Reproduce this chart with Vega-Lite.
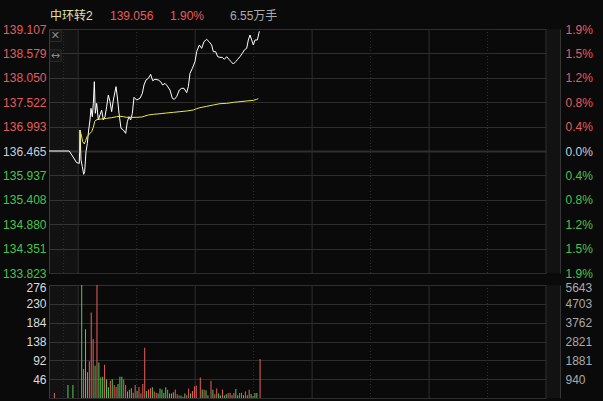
{
  "$schema": "https://vega.github.io/schema/vega-lite/v6.json",
  "width": 511,
  "height": 369,
  "autosize": {"type": "none"},
  "padding": {"left": 49, "top": 29, "right": 43, "bottom": 3},
  "background": "#0a0a0a",
  "view": {"stroke": null},
  "config": {
    "font": "Liberation Sans",
    "axis": {"labelFont": "Liberation Sans", "labelFontSize": 12, "ticks": false, "tickSize": 0, "labelOverlap": false, "labelBound": false, "domainColor": "#363636"}
  },
  "datasets": {
    "zones": [{"start": 0, "end": 15}, {"start": 255, "end": 262.2}],
    "vgrid": [
      {"t": 7.5, "kind": "minor"}, {"t": 15, "kind": "major"}, {"t": 45, "kind": "minor"}, {"t": 75, "kind": "major"},
      {"t": 105, "kind": "minor"}, {"t": 135, "kind": "major"}, {"t": 165, "kind": "minor"}, {"t": 195, "kind": "major"},
      {"t": 225, "kind": "minor"}, {"t": 255, "kind": "major"}
    ],
    "icons": [{"t": 3.3, "p": 138.96, "icon": "✕"}, {"t": 3.3, "p": 138.53, "icon": "↔"}],
    "header": [{"item": "中环转2"}, {"item": "139.056"}, {"item": "1.90%"}, {"item": "6.55万手"}],
    "price": [
      {"t": 0, "p": 136.465}, {"t": 10.4, "p": 136.465}, {"t": 14.2, "p": 136.212},
      {"t": 15.56, "p": 136.198}, {"t": 15.91, "p": 136.92}, {"t": 16.42, "p": 136.27}, {"t": 17.1, "p": 136.126},
      {"t": 17.79, "p": 135.96}, {"t": 18.3, "p": 136.017}, {"t": 18.98, "p": 136.45}, {"t": 19.67, "p": 136.631},
      {"t": 20.35, "p": 136.92}, {"t": 21.04, "p": 137.136}, {"t": 21.55, "p": 137.389}, {"t": 22.23, "p": 137.208},
      {"t": 22.75, "p": 137.497}, {"t": 23.26, "p": 137.966}, {"t": 23.77, "p": 137.281}, {"t": 24.46, "p": 137.497},
      {"t": 25.31, "p": 137.136}, {"t": 26.17, "p": 137.245}, {"t": 27.02, "p": 137.353}, {"t": 27.88, "p": 137.136},
      {"t": 28.73, "p": 137.208}, {"t": 29.59, "p": 137.425}, {"t": 30.44, "p": 137.678}, {"t": 31.3, "p": 137.533},
      {"t": 32.15, "p": 137.317}, {"t": 33.01, "p": 137.569}, {"t": 34.38, "p": 137.858}, {"t": 35.23, "p": 137.569},
      {"t": 35.92, "p": 137.281}, {"t": 36.94, "p": 136.956}, {"t": 38.14, "p": 136.92}, {"t": 39.34, "p": 136.848},
      {"t": 40.19, "p": 137.1}, {"t": 41.05, "p": 137.208}, {"t": 41.9, "p": 137.136}, {"t": 42.76, "p": 137.281},
      {"t": 43.61, "p": 137.627}, {"t": 44.98, "p": 137.569}, {"t": 46.69, "p": 137.606}, {"t": 47.89, "p": 137.714},
      {"t": 48.74, "p": 137.894}, {"t": 49.77, "p": 138.003}, {"t": 50.97, "p": 138.039}, {"t": 52.16, "p": 138.125},
      {"t": 53.19, "p": 137.988}, {"t": 54.39, "p": 138.017}, {"t": 56.1, "p": 138.003}, {"t": 57.3, "p": 137.966},
      {"t": 58.32, "p": 137.894}, {"t": 59.52, "p": 137.93}, {"t": 60.71, "p": 137.873}, {"t": 62.08, "p": 137.786},
      {"t": 63.28, "p": 137.606}, {"t": 64.31, "p": 137.584}, {"t": 65.5, "p": 137.642}, {"t": 66.87, "p": 137.786},
      {"t": 68.07, "p": 137.822}, {"t": 69.27, "p": 137.822}, {"t": 70.64, "p": 137.728}, {"t": 71.49, "p": 137.858},
      {"t": 72.34, "p": 138.147}, {"t": 73.54, "p": 138.255}, {"t": 74.91, "p": 138.4}, {"t": 75.77, "p": 138.616},
      {"t": 77.13, "p": 138.761}, {"t": 78.33, "p": 138.688}, {"t": 79.53, "p": 138.833}, {"t": 80.9, "p": 138.883},
      {"t": 82.09, "p": 138.833}, {"t": 83.46, "p": 138.761}, {"t": 84.31, "p": 138.616}, {"t": 85.51, "p": 138.616},
      {"t": 86.54, "p": 138.508}, {"t": 87.74, "p": 138.493}, {"t": 88.93, "p": 138.493}, {"t": 89.96, "p": 138.45},
      {"t": 91.16, "p": 138.508}, {"t": 92.35, "p": 138.45}, {"t": 93.38, "p": 138.4}, {"t": 94.58, "p": 138.349},
      {"t": 95.77, "p": 138.4}, {"t": 96.8, "p": 138.45}, {"t": 98.0, "p": 138.508}, {"t": 99.19, "p": 138.58},
      {"t": 100.22, "p": 138.652}, {"t": 101.42, "p": 138.688}, {"t": 102.27, "p": 138.869}, {"t": 103.13, "p": 138.977},
      {"t": 103.99, "p": 138.869}, {"t": 104.84, "p": 138.761}, {"t": 105.7, "p": 138.869}, {"t": 106.89, "p": 138.869},
      {"t": 107.92, "p": 139.056}
    ],
    "avg": [
      {"t": 15.73, "a": 136.414}, {"t": 16.08, "a": 136.884}, {"t": 16.59, "a": 136.811}, {"t": 17.27, "a": 136.667},
      {"t": 18.13, "a": 136.617}, {"t": 18.81, "a": 136.689}, {"t": 19.5, "a": 136.775}, {"t": 20.35, "a": 136.811},
      {"t": 21.04, "a": 136.848}, {"t": 21.89, "a": 136.884}, {"t": 22.75, "a": 136.978}, {"t": 23.43, "a": 137.1},
      {"t": 24.11, "a": 137.136}, {"t": 25.31, "a": 137.151}, {"t": 27.02, "a": 137.158}, {"t": 29.59, "a": 137.172},
      {"t": 32.15, "a": 137.187}, {"t": 34.72, "a": 137.208}, {"t": 36.43, "a": 137.216}, {"t": 38.14, "a": 137.208},
      {"t": 39.85, "a": 137.194}, {"t": 42.42, "a": 137.194}, {"t": 44.98, "a": 137.194}, {"t": 47.55, "a": 137.201},
      {"t": 49.26, "a": 137.223}, {"t": 50.97, "a": 137.245}, {"t": 53.53, "a": 137.259}, {"t": 56.95, "a": 137.273},
      {"t": 60.37, "a": 137.288}, {"t": 63.79, "a": 137.302}, {"t": 67.21, "a": 137.317}, {"t": 70.64, "a": 137.331},
      {"t": 74.05, "a": 137.353}, {"t": 75.77, "a": 137.382}, {"t": 77.48, "a": 137.403}, {"t": 80.9, "a": 137.432},
      {"t": 84.31, "a": 137.461}, {"t": 87.74, "a": 137.49}, {"t": 91.16, "a": 137.497}, {"t": 94.58, "a": 137.519},
      {"t": 98.0, "a": 137.533}, {"t": 101.42, "a": 137.548}, {"t": 104.84, "a": 137.562}, {"t": 106.55, "a": 137.584},
      {"t": 107.4, "a": 137.598}
    ],
    "volume": [
      {"t": 0.2, "v": 12, "d": "up"}, {"t": 7.3, "v": 32, "d": "down"}, {"t": 9.9, "v": 32, "d": "down"},
      {"t": 14.5, "v": 276, "d": "down"}, {"t": 15.5, "v": 71, "d": "up"}, {"t": 16.5, "v": 168, "d": "down"}, {"t": 17.5, "v": 63, "d": "down"},
      {"t": 18.5, "v": 90, "d": "up"}, {"t": 19.5, "v": 209, "d": "up"}, {"t": 20.5, "v": 144, "d": "up"}, {"t": 21.5, "v": 79, "d": "down"},
      {"t": 22.5, "v": 276, "d": "up"}, {"t": 23.5, "v": 87, "d": "down"}, {"t": 24.5, "v": 50, "d": "down"}, {"t": 25.5, "v": 52, "d": "down"},
      {"t": 26.5, "v": 81, "d": "up"}, {"t": 27.5, "v": 45, "d": "down"}, {"t": 28.5, "v": 26, "d": "down"}, {"t": 29.5, "v": 42, "d": "up"},
      {"t": 30.5, "v": 46, "d": "down"}, {"t": 31.5, "v": 32, "d": "up"}, {"t": 32.5, "v": 27, "d": "up"}, {"t": 33.5, "v": 34, "d": "down"},
      {"t": 34.5, "v": 52, "d": "down"}, {"t": 35.5, "v": 52, "d": "down"}, {"t": 36.5, "v": 45, "d": "up"}, {"t": 37.5, "v": 32, "d": "up"},
      {"t": 38.5, "v": 16, "d": "down"}, {"t": 39.5, "v": 20, "d": "up"}, {"t": 40.5, "v": 24, "d": "down"}, {"t": 41.5, "v": 13, "d": "up"},
      {"t": 42.5, "v": 32, "d": "up"}, {"t": 43.5, "v": 17, "d": "down"}, {"t": 44.5, "v": 27, "d": "up"}, {"t": 45.5, "v": 11, "d": "up"},
      {"t": 46.5, "v": 34, "d": "up"}, {"t": 47.5, "v": 123, "d": "up"}, {"t": 48.5, "v": 17, "d": "down"}, {"t": 49.5, "v": 21, "d": "up"},
      {"t": 50.5, "v": 24, "d": "up"}, {"t": 51.5, "v": 26, "d": "down"}, {"t": 52.5, "v": 16, "d": "up"}, {"t": 53.5, "v": 13, "d": "up"},
      {"t": 54.5, "v": 11, "d": "down"}, {"t": 55.5, "v": 23, "d": "down"}, {"t": 56.5, "v": 21, "d": "down"}, {"t": 57.5, "v": 12, "d": "down"},
      {"t": 58.5, "v": 26, "d": "down"}, {"t": 59.5, "v": 20, "d": "up"}, {"t": 60.5, "v": 11, "d": "down"}, {"t": 61.5, "v": 11, "d": "down"},
      {"t": 62.5, "v": 14, "d": "down"}, {"t": 63.5, "v": 21, "d": "up"}, {"t": 64.5, "v": 9, "d": "up"}, {"t": 65.5, "v": 6, "d": "up"},
      {"t": 66.5, "v": 6, "d": "down"}, {"t": 67.5, "v": 3, "d": "up"}, {"t": 68.5, "v": 11, "d": "down"}, {"t": 69.5, "v": 7, "d": "up"},
      {"t": 70.5, "v": 23, "d": "up"}, {"t": 71.5, "v": 11, "d": "down"}, {"t": 72.5, "v": 17, "d": "up"}, {"t": 73.5, "v": 29, "d": "up"},
      {"t": 74.5, "v": 30, "d": "up"}, {"t": 76.6, "v": 50, "d": "up"}, {"t": 77.6, "v": 21, "d": "down"}, {"t": 78.6, "v": 20, "d": "up"},
      {"t": 79.6, "v": 19, "d": "down"}, {"t": 80.6, "v": 7, "d": "down"}, {"t": 82.2, "v": 42, "d": "up"}, {"t": 83.2, "v": 20, "d": "down"},
      {"t": 84.2, "v": 9, "d": "up"}, {"t": 85.2, "v": 23, "d": "up"}, {"t": 86.2, "v": 11, "d": "down"}, {"t": 87.2, "v": 6, "d": "down"},
      {"t": 88.2, "v": 21, "d": "up"}, {"t": 89.2, "v": 6, "d": "down"}, {"t": 90.2, "v": 9, "d": "down"}, {"t": 91.2, "v": 12, "d": "up"},
      {"t": 92.2, "v": 12, "d": "up"}, {"t": 93.2, "v": 7, "d": "down"}, {"t": 94.2, "v": 12, "d": "up"}, {"t": 95.2, "v": 22, "d": "down"},
      {"t": 96.2, "v": 7, "d": "down"}, {"t": 97.2, "v": 12, "d": "up"}, {"t": 98.2, "v": 13, "d": "up"}, {"t": 99.2, "v": 7, "d": "down"},
      {"t": 100.2, "v": 16, "d": "up"}, {"t": 101.2, "v": 7, "d": "down"}, {"t": 102.2, "v": 20, "d": "up"}, {"t": 103.2, "v": 10, "d": "down"},
      {"t": 104.2, "v": 5, "d": "up"}, {"t": 105.2, "v": 12, "d": "down"}, {"t": 106.2, "v": 12, "d": "down"}, {"t": 107.9, "v": 95, "d": "up"}
    ]
  },
  "layer": [
    {
      "data": {"name": "zones"},
      "mark": {"type": "rect", "fill": "#ffffff", "fillOpacity": 0.035},
      "encoding": {
        "x": {"field": "start", "type": "quantitative", "scale": {"domain": [0, 255], "range": [0, 497], "nice": false, "zero": false}, "axis": null},
        "x2": {"field": "end"},
        "y": {"datum": 139.107, "type": "quantitative", "scale": {"domain": [133.823, 139.107], "range": [244, 0], "nice": false, "zero": false},
          "axis": {"orient": "right", "title": null, "grid": false, "domain": true, "labelPadding": 5,
            "values": [133.823, 134.351, 134.88, 135.408, 135.937, 136.465, 136.993, 137.522, 138.05, 138.579, 139.107],
            "labelExpr": "format(abs(datum.value - 136.465) / 136.465 * 100, '.1f') + '%'",
            "labelColor": {"condition": [{"test": "datum.value > 136.5", "value": "#e35d5d"}, {"test": "datum.value < 136.4", "value": "#4cc24c"}], "value": "#c9ced6"}}},
        "y2": {"datum": 133.823}
      }
    },
    {
      "data": {"name": "zones"},
      "mark": {"type": "rect", "fill": "#ffffff", "fillOpacity": 0.035},
      "encoding": {
        "x": {"field": "start", "type": "quantitative", "scale": {"domain": [0, 255], "range": [0, 497], "nice": false, "zero": false}, "axis": null},
        "x2": {"field": "end"},
        "y": {"datum": 276, "type": "quantitative", "scale": {"domain": [0, 276], "range": [369, 256], "nice": false, "zero": false},
          "axis": {"orient": "right", "title": null, "grid": false, "domain": true, "labelPadding": 5, "labelColor": "#a9a9a9",
            "values": [0, 46, 92, 138, 184, 230, 276],
            "labelOffset": {"condition": {"test": "datum.value == 276", "value": 2}, "value": 0},
            "labelExpr": "datum.value == 46 ? '940' : datum.value == 92 ? '1881' : datum.value == 138 ? '2821' : datum.value == 184 ? '3762' : datum.value == 230 ? '4703' : datum.value == 276 ? '5643' : ''"}},
        "y2": {"datum": 0}
      }
    },
    {
      "data": {"name": "vgrid"},
      "mark": {"type": "rule", "color": "#2e2e2e", "strokeWidth": 1},
      "encoding": {
        "x": {"field": "t", "type": "quantitative", "scale": {"domain": [0, 255], "range": [0, 497], "nice": false, "zero": false}, "axis": null},
        "y": {"datum": 139.107, "type": "quantitative", "scale": {"domain": [133.823, 139.107], "range": [244, 0], "nice": false, "zero": false}, "axis": null},
        "y2": {"datum": 133.823},
        "strokeDash": {"field": "kind", "type": "nominal", "scale": {"domain": ["major", "minor"], "range": [[1, 0], [1, 2]]}, "legend": null}
      }
    },
    {
      "data": {"name": "vgrid"},
      "mark": {"type": "rule", "color": "#2e2e2e", "strokeWidth": 1},
      "encoding": {
        "x": {"field": "t", "type": "quantitative", "scale": {"domain": [0, 255], "range": [0, 497], "nice": false, "zero": false}, "axis": null},
        "y": {"datum": 276, "type": "quantitative", "scale": {"domain": [0, 276], "range": [369, 256], "nice": false, "zero": false}, "axis": null},
        "y2": {"datum": 0},
        "strokeDash": {"field": "kind", "type": "nominal", "scale": {"domain": ["major", "minor"], "range": [[1, 0], [1, 2]]}, "legend": null}
      }
    },
    {
      "data": {"name": "price"},
      "mark": {"type": "line", "color": "#ffffff", "strokeWidth": 1},
      "encoding": {
        "x": {"field": "t", "type": "quantitative", "scale": {"domain": [0, 255], "range": [0, 497], "nice": false, "zero": false}, "axis": null},
        "y": {"field": "p", "type": "quantitative", "scale": {"domain": [133.823, 139.107], "range": [244, 0], "nice": false, "zero": false},
          "axis": {"orient": "left", "title": null, "grid": true, "gridColor": "#2e2e2e", "domain": true, "labelPadding": 3, "format": ".3f",
            "values": [133.823, 134.351, 134.88, 135.408, 135.937, 136.465, 136.993, 137.522, 138.05, 138.579, 139.107],
            "gridWidth": {"condition": {"test": "abs(datum.value - 136.465) < 0.01", "value": 2}, "value": 1},
            "labelColor": {"condition": [{"test": "datum.value > 136.5", "value": "#e35d5d"}, {"test": "datum.value < 136.4", "value": "#4cc24c"}], "value": "#c9ced6"}}}
      }
    },
    {
      "data": {"name": "avg"},
      "mark": {"type": "line", "color": "#e8e64c", "strokeWidth": 1},
      "encoding": {
        "x": {"field": "t", "type": "quantitative", "scale": {"domain": [0, 255], "range": [0, 497], "nice": false, "zero": false}, "axis": null},
        "y": {"field": "a", "type": "quantitative", "scale": {"domain": [133.823, 139.107], "range": [244, 0], "nice": false, "zero": false}, "axis": null}
      }
    },
    {
      "data": {"name": "volume"},
      "mark": {"type": "bar", "width": 1},
      "encoding": {
        "x": {"field": "t", "type": "quantitative", "scale": {"domain": [0, 255], "range": [0, 497], "nice": false, "zero": false}, "axis": null},
        "y": {"field": "v", "type": "quantitative", "scale": {"domain": [0, 276], "range": [369, 256], "nice": false, "zero": false},
          "axis": {"orient": "left", "title": null, "grid": true, "gridColor": "#2e2e2e", "domain": true, "labelPadding": 3, "labelColor": "#dcdcdc",
            "values": [0, 46, 92, 138, 184, 230, 276], "labelExpr": "datum.value == 0 ? '' : datum.label",
            "labelOffset": {"condition": {"test": "datum.value == 276", "value": 2}, "value": 0}}},
        "color": {"field": "d", "type": "nominal", "scale": {"domain": ["up", "down"], "range": ["#e8605a", "#58c858"]}, "legend": null}
      }
    },
    {
      "data": {"name": "icons"},
      "mark": {"type": "point", "shape": "square", "size": 130, "filled": true, "fill": "#161616", "stroke": "#3a3a3a", "strokeWidth": 1},
      "encoding": {
        "x": {"field": "t", "type": "quantitative", "scale": {"domain": [0, 255], "range": [0, 497], "nice": false, "zero": false}, "axis": null},
        "y": {"field": "p", "type": "quantitative", "scale": {"domain": [133.823, 139.107], "range": [244, 0], "nice": false, "zero": false}, "axis": null}
      }
    },
    {
      "data": {"name": "icons"},
      "mark": {"type": "text", "color": "#8a8a8a", "fontSize": 11, "font": "DejaVu Sans", "baseline": "middle", "align": "center"},
      "encoding": {
        "x": {"field": "t", "type": "quantitative", "scale": {"domain": [0, 255], "range": [0, 497], "nice": false, "zero": false}, "axis": null},
        "y": {"field": "p", "type": "quantitative", "scale": {"domain": [133.823, 139.107], "range": [244, 0], "nice": false, "zero": false}, "axis": null},
        "text": {"field": "icon"}
      }
    },
    {
      "data": {"name": "header"},
      "mark": {"type": "rule", "strokeOpacity": 0},
      "encoding": {
        "x": {"field": "item", "type": "nominal", "sort": null,
          "scale": {"type": "band", "domain": ["中环转2", "139.056", "1.90%", "6.55万手"], "range": [-29, 211], "paddingInner": 0, "paddingOuter": 0},
          "axis": {"orient": "top", "title": null, "grid": false, "domain": false, "labelAngle": 0, "labelAlign": "left", "labelBaseline": "middle", "labelPadding": 14,
            "labelFont": "Liberation Sans, Noto Sans CJK SC", "labelFontSize": 12,
            "labelColor": {"condition": [{"test": "datum.value === '中环转2'", "value": "#e2e2a8"}, {"test": "datum.value === '6.55万手'", "value": "#a9a9a9"}], "value": "#e35d5d"}}}
      }
    }
  ],
  "resolve": {"scale": {"x": "independent", "y": "independent"}}
}
